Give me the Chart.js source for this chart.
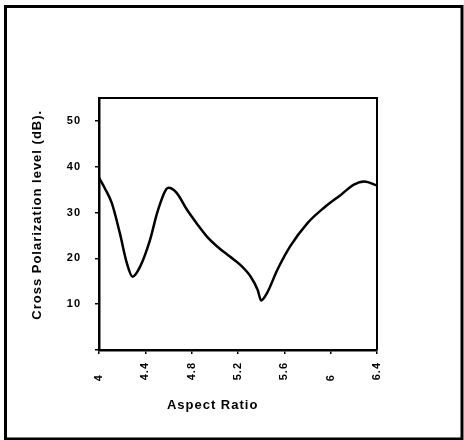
<!DOCTYPE html>
<html>
<head>
<meta charset="utf-8">
<script src="https://cdn.jsdelivr.net/npm/chart.js@4"></script>
<style>
  html, body { margin: 0; padding: 0; background: #fff; }
  #wrap { position: relative; width: 464px; height: 440px; }
</style>
</head>
<body>
<div id="wrap"><canvas id="myChart" width="464" height="440"></canvas></div>
<script>
// values
const aspectRatio = [4.0, 4.05, 4.11, 4.18, 4.24, 4.29, 4.355, 4.44, 4.51, 4.60, 4.67, 4.76, 4.85, 4.93,
                     5.02, 5.13, 5.22, 5.31, 5.37, 5.40, 5.45, 5.54, 5.65, 5.80, 5.94, 6.09, 6.20, 6.29, 6.40];
const crossPol = [37.6, 35.3, 32.1, 25.5, 19.0, 16.0, 18.2, 24.0, 30.6, 35.4, 34.3, 30.6, 27.4, 24.8,
                  22.6, 20.4, 18.6, 16.0, 13.1, 10.8, 12.4, 17.5, 22.6, 27.7, 31.0, 33.9, 36.1, 36.8, 35.9];
const xTicks = [4, 4.4, 4.8, 5.2, 5.6, 6, 6.4];
const yTicks = [0, 10, 20, 30, 40, 50];

const font = "'Liberation Sans', Arial, sans-serif";

// frame round the page and the top/right edges of the plot box
const framePlugin = {
    id: 'frame',
    beforeUpdate: function(chart) {
        chart.ctx.letterSpacing = '1px';
    },
    beforeDraw: function(chart) {
        const c = chart.ctx;
        c.letterSpacing = '1px';
        c.save();
        c.fillStyle = '#fff';
        c.fillRect(0, 0, chart.width, chart.height);
        c.strokeStyle = '#000';
        c.lineWidth = 3;
        c.strokeRect(5.5, 6.5, 456.5, 432.5);
        c.restore();
    },
    afterDraw: function(chart) {
        const a = chart.chartArea;
        const c = chart.ctx;
        c.save();
        c.strokeStyle = '#000';
        c.lineWidth = 2;
        c.beginPath();
        c.moveTo(a.left, a.top);
        c.lineTo(a.right, a.top);
        c.lineTo(a.right, a.bottom);
        c.stroke();
        c.restore();
    }
};

const points = aspectRatio.map(function(x, i) { return {x: x, y: crossPol[i]}; });

// labels in the picture line up at their start, so pad the short ones
function xLabel(v) {
    const s = String(Number(v.toFixed(1)));
    return s.length === 1 ? s + '   ' : s;
}

const config = {
    type: 'line',
    data: {
        datasets: [{
            data: points,
            borderColor: '#000',
            borderWidth: 2.5,
            pointRadius: 0,
            fill: false,
            tension: 0.4,
            cubicInterpolationMode: 'monotone'
        }]
    },
    options: {
        responsive: false,
        animation: false,
        events: [],
        layout: { padding: { left: 26, top: 98, right: 87, bottom: 23 } },
        plugins: { legend: { display: false }, tooltip: { enabled: false } },
        scales: {
            x: {
                type: 'linear',
                min: 4,
                max: 6.4,
                afterBuildTicks: function(axis) {
                    axis.ticks = xTicks.map(function(v) { return {value: v}; });
                },
                afterFit: function(axis) { axis.height = 67; },
                grid: { display: true, drawOnChartArea: false, drawTicks: true, tickLength: 4, color: '#000', lineWidth: 1.5 },
                border: { display: true, color: '#000', width: 2.5 },
                ticks: {
                    minRotation: 90, maxRotation: 90, padding: 8, color: '#000',
                    font: { family: font, size: 11, weight: 'bold' },
                    callback: xLabel
                },
                title: {
                    display: true, text: 'Aspect Ratio           ', color: '#000',
                    font: { family: font, size: 13, weight: 'bold' }
                }
            },
            y: {
                min: 0,
                max: 55,
                afterBuildTicks: function(axis) {
                    axis.ticks = yTicks.map(function(v) { return {value: v}; });
                },
                afterFit: function(axis) { axis.width = 73; },
                grid: { display: true, drawOnChartArea: false, drawTicks: true, tickLength: 4, color: '#000', lineWidth: 1.5 },
                border: { display: true, color: '#000', width: 2.5 },
                ticks: {
                    padding: 14, color: '#000',
                    font: { family: font, size: 11, weight: 'bold' },
                    callback: function(v) { return v === 0 ? '' : String(v); }
                },
                title: {
                    display: true, text: '    Cross Polarization level (dB).', color: '#000',
                    font: { family: font, size: 13, weight: 'bold' }
                }
            }
        }
    },
    plugins: [framePlugin]
};

new Chart(document.getElementById('myChart'), config);
</script>
</body>
</html>
